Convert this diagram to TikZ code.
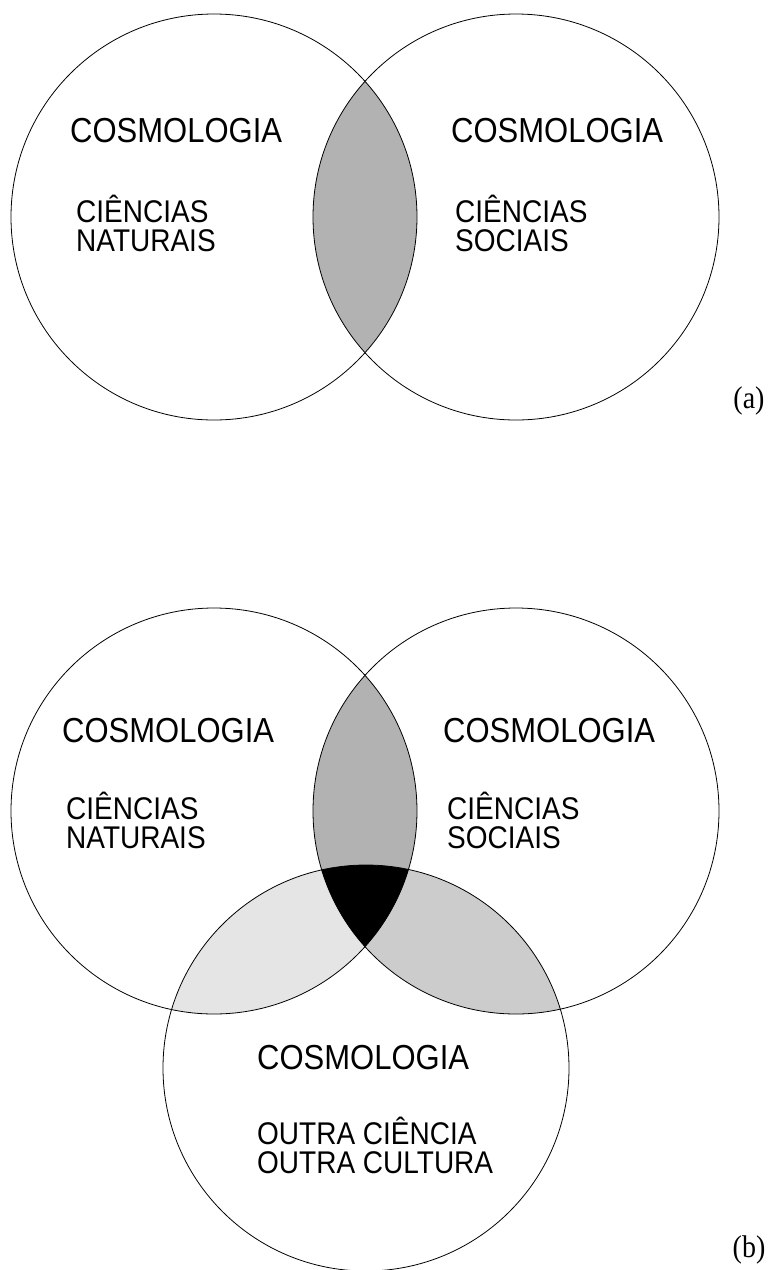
\documentclass[tikz,border=0pt]{standalone}
\usepackage{fontspec}
\setmainfont{Liberation Sans}
\newfontfamily\serifpart{Liberation Serif}
\usepackage{graphicx}
\usepackage{tikz}

\newcommand{\alto}[1]{\scalebox{1}[1.12]{#1}}

\tikzset{
  venn/.style={line width=0.8pt},
  titulo/.style={anchor=west, inner sep=0pt, font=\fontsize{31}{34}\selectfont},
  area/.style={anchor=west, inner sep=0pt, align=left, font=\fontsize{28}{29}\selectfont},
  rotulo/.style={inner sep=0pt, font=\serifpart\fontsize{28}{30}\selectfont}
}

\begin{document}
\begin{tikzpicture}[x=1pt, y=-1pt]
    \useasboundingbox (0,0) rectangle (772,1270);
    \def\raio{203}

    % Centros dos circulos
    \coordinate (natA) at (214,217);
    \coordinate (socA) at (516,217);
    \coordinate (natB) at (214,811);
    \coordinate (socB) at (516,811);
    \coordinate (outB) at (366,1068);

    % (a) intersecao
    \begin{scope}
        \clip (natA) circle (\raio);
        \fill[black!30] (socA) circle (\raio);
    \end{scope}
    \draw[venn] (natA) circle (\raio);
    \draw[venn] (socA) circle (\raio);

    \node[titulo] (cosNatA) at (70,131) {\alto{COSMOLOGIA}};
    \node[area] (natTxtA) at (76,223) {\alto{CIÊNCIAS}\\\alto{NATURAIS}};
    \node[titulo] (cosSocA) at (451,131) {\alto{COSMOLOGIA}};
    \node[area] (socTxtA) at (455,223) {\alto{CIÊNCIAS}\\\alto{SOCIAIS}};
    \node[rotulo] (rotA) at (749,401) {\alto{(a)}};

    % (b) intersecoes
    \begin{scope}
        \clip (natB) circle (\raio);
        \fill[black!10] (outB) circle (\raio);
        \fill[black!30] (socB) circle (\raio);
    \end{scope}
    \begin{scope}
        \clip (socB) circle (\raio);
        \fill[black!20] (outB) circle (\raio);
    \end{scope}
    \begin{scope}
        \clip (natB) circle (\raio);
        \clip (socB) circle (\raio);
        \fill[black] (outB) circle (\raio);
    \end{scope}
    \draw[venn] (natB) circle (\raio);
    \draw[venn] (socB) circle (\raio);
    \draw[venn] (outB) circle (\raio);

    \node[titulo] (cosNatB) at (62,731) {\alto{COSMOLOGIA}};
    \node[area] (natTxtB) at (66,820) {\alto{CIÊNCIAS}\\\alto{NATURAIS}};
    \node[titulo] (cosSocB) at (443,731) {\alto{COSMOLOGIA}};
    \node[area] (socTxtB) at (447,820) {\alto{CIÊNCIAS}\\\alto{SOCIAIS}};
    \node[titulo] (cosOutB) at (257,1058) {\alto{COSMOLOGIA}};
    \node[area] (outTxtB) at (257,1145) {\alto{OUTRA CIÊNCIA}\\\alto{OUTRA CULTURA}};
    \node[rotulo] (rotB) at (749,1250) {\alto{(b)}};
\end{tikzpicture}
\end{document}
